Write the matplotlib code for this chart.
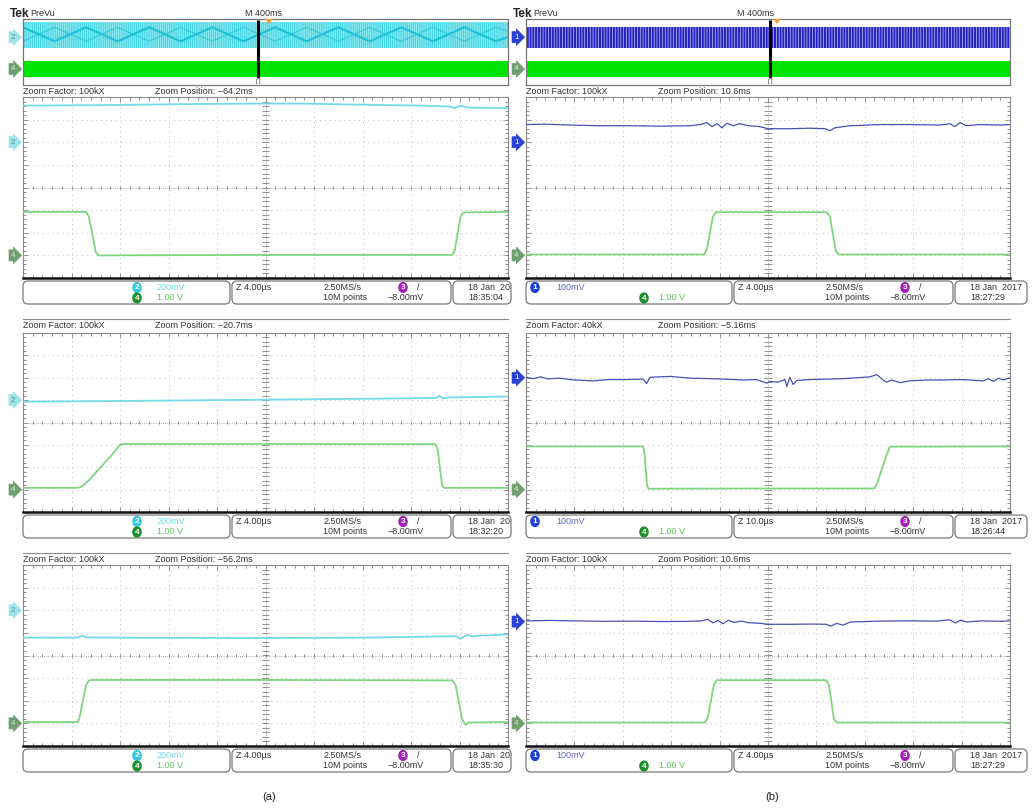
import numpy as np
import matplotlib
matplotlib.use("Agg")
import matplotlib.pyplot as plt
from matplotlib.patches import FancyBboxPatch, Polygon

W, H = 1033, 810

# --- zoomed traces, in scope divisions (x 0..10, y -4..4) ---
a1_ch2_x = [0, 1.6, 3.6, 4.9, 5.7, 6.7, 8.2, 8.8, 8.9, 9.0, 9.2, 10]
a1_ch2_y = [3.62, 3.64, 3.69, 3.71, 3.71, 3.67, 3.62, 3.58, 3.50, 3.62, 3.53, 3.51]
a1_ch4_x = [0, 1.30, 1.36, 1.50, 1.56, 5.0, 8.85, 8.90, 9.02, 9.08, 10]
a1_ch4_y = [-1.08, -1.08, -1.3, -2.85, -3.0, -2.98, -2.98, -2.8, -1.3, -1.1, -1.08]

a2_ch2_x = [0, 2, 4, 6, 8, 8.52, 8.58, 8.66, 8.8, 10]
a2_ch2_y = [0.93, 0.96, 1.0, 1.04, 1.08, 1.1, 1.2, 1.07, 1.12, 1.16]
a2_ch4_x = [0, 1.1, 1.2, 1.35, 1.6, 1.85, 2.0, 2.06, 5, 8.5, 8.55, 8.64, 8.68, 10]
a2_ch4_y = [-2.92, -2.92, -2.88, -2.6, -2.0, -1.4, -1.0, -0.96, -0.96, -0.97, -1.2, -2.8, -2.92, -2.92]

a3_ch2_x = [0, 1.1, 1.18, 1.23, 1.3, 2.5, 5, 7.1, 8.5, 8.95, 9.02, 9.1, 9.18, 9.25, 9.42, 9.7, 10]
a3_ch2_y = [0.79, 0.79, 0.84, 0.87, 0.8, 0.78, 0.77, 0.79, 0.84, 0.85, 0.74, 0.85, 0.92, 0.84, 0.88, 0.9, 0.93]
a3_ch4_x = [0, 1.12, 1.16, 1.30, 1.36, 1.45, 5, 8.85, 8.92, 9.05, 9.12, 9.2, 10]
a3_ch4_y = [-2.94, -2.94, -2.8, -1.3, -1.1, -1.08, -1.08, -1.1, -1.3, -2.8, -3.06, -2.96, -2.94]

b1_ch1_x = [0, 0.39, 0.91, 1.53, 2.15, 2.77, 3.39, 3.60, 3.74, 3.84, 3.95, 4.05, 4.15, 4.28, 4.42, 4.59, 4.83,
            5.0, 5.45, 5.87, 6.18, 6.28, 6.38, 6.69, 7.31, 7.93, 8.55, 8.76, 8.86, 8.97, 9.09, 9.38, 9.79, 10]
b1_ch1_y = [2.78, 2.80, 2.76, 2.73, 2.73, 2.71, 2.73, 2.78, 2.87, 2.69, 2.82, 2.64, 2.84, 2.73, 2.82, 2.73, 2.69,
            2.60, 2.60, 2.62, 2.60, 2.51, 2.64, 2.73, 2.78, 2.78, 2.76, 2.82, 2.69, 2.87, 2.73, 2.78, 2.76, 2.78]
b1_ch4_x = [0, 3.68, 3.74, 3.86, 3.92, 6.22, 6.28, 6.40, 6.46, 10]
b1_ch4_y = [-2.96, -2.96, -2.7, -1.3, -1.09, -1.09, -1.3, -2.8, -2.96, -2.96]

b2_ch1_x = [0, 0.15, 0.3, 0.45, 0.7, 1.0, 1.39, 1.7, 2.08, 2.42, 2.49, 2.56, 2.75, 2.98, 3.4, 3.8, 4.2, 4.49,
            4.75, 4.90, 4.97, 5.04, 5.2, 5.35, 5.39, 5.45, 5.52, 5.6, 5.87, 6.56, 7.11, 7.25, 7.35, 7.45, 7.55,
            7.73, 7.93, 8.3, 8.62, 9.0, 9.45, 9.55, 9.66, 9.76, 9.86, 10]
b2_ch1_y = [2.02, 1.96, 2.04, 1.95, 1.98, 1.90, 1.86, 1.92, 1.92, 1.94, 1.74, 2.02, 2.04, 2.06, 1.98, 1.96, 1.93, 1.90,
            1.92, 1.82, 1.76, 1.84, 1.80, 1.92, 1.60, 2.02, 1.70, 1.88, 1.92, 1.96, 2.04, 2.14, 1.95, 1.80, 1.90,
            1.78, 1.86, 1.90, 1.90, 1.92, 1.86, 1.96, 1.84, 1.98, 1.90, 2.0]
b2_ch4_x = [0, 2.42, 2.45, 2.50, 2.53, 5.0, 7.20, 7.26, 7.35, 7.45, 7.52, 10]
b2_ch4_y = [-1.07, -1.07, -1.4, -2.8, -2.96, -2.95, -2.95, -2.7, -2.1, -1.45, -1.08, -1.07]

b3_ch1_x = [0, 0.5, 1.0, 1.6, 2.2, 2.8, 3.4, 3.62, 3.76, 3.86, 3.97, 4.07, 4.18, 4.3, 4.45, 4.6, 4.85, 5.0,
            5.5, 5.9, 6.2, 6.3, 6.42, 6.55, 6.7, 7.3, 7.9, 8.5, 8.75, 8.87, 8.98, 9.1, 9.4, 9.8, 10]
b3_ch1_y = [1.53, 1.55, 1.53, 1.51, 1.52, 1.50, 1.51, 1.53, 1.60, 1.44, 1.55, 1.40, 1.56, 1.46, 1.52, 1.45, 1.42, 1.38,
            1.38, 1.39, 1.38, 1.30, 1.42, 1.34, 1.48, 1.52, 1.53, 1.52, 1.58, 1.44, 1.56, 1.48, 1.53, 1.51, 1.53]
b3_ch4_x = [0, 3.70, 3.76, 3.88, 3.94, 6.20, 6.26, 6.36, 6.42, 10]
b3_ch4_y = [-2.96, -2.96, -2.7, -1.3, -1.09, -1.09, -1.3, -2.8, -2.96, -2.96]

# channel marker levels (divisions)
left_ch2_marker = [2, 1, 2]
right_ch1_marker = [2, 2, 1.5]
ch4_marker = -3

# PreVu strip (divisions, same -4..4 scale)
prevu_edges = [0, 10]
prevu_ch2_band = [0.5, 3.62]
prevu_ch1_band = [0.48, 3.0]
prevu_ch4_band = [-3.03, -1.09]
zig_x = [0.0, 0.65, 1.3, 1.95, 2.6, 3.25, 3.9, 4.55, 5.2, 5.85, 6.5, 7.15, 7.8, 8.45, 9.1, 9.75, 10]
zig_a = [3.0, 1.3, 3.0, 1.3, 3.0, 1.3, 3.0, 1.3, 3.0, 1.3, 3.0, 1.3, 3.0, 1.3, 3.0, 1.3, 1.8]
zig_b = [1.3, 3.0, 1.3, 3.0, 1.3, 3.0, 1.3, 3.0, 1.3, 3.0, 1.3, 3.0, 1.3, 3.0, 1.3, 3.0, 2.5]

# status bar / header texts
zoom_factor = [['100kX', '100kX', '100kX'], ['100kX', '40kX', '100kX']]
zoom_pos = [['\u221264.2ms', '\u221220.7ms', '\u221256.2ms'], ['10.6ms', '\u22125.16ms', '10.6ms']]
timebase = [['Z 4.00µs', 'Z 4.00µs', 'Z 4.00µs'], ['Z 4.00µs', 'Z 10.0µs', 'Z 4.00µs']]
clock = [['18:35:04', '18:32:20', '18:35:30'], ['18:27:29', '18:26:44', '18:27:29']]
date = ['18 Jan  20', '18 Jan  2017']
captions = ['(a)', '(b)']

CYAN = '#72dbe6'
GREEN = '#7fd67f'
BLUE = '#4b4fb0'
FS = 6.5
plt.rcParams['font.family'] = ['Liberation Sans', 'DejaVu Sans']
plt.rcParams['hatch.linewidth'] = 0.5

fig = plt.figure(figsize=(W / 100, H / 100), dpi=100)

cols = [(23, 508), (526, 1010)]
grid_rows = [(97, 278), (333, 512), (565, 746)]
label_rows = [91, 325, 559]
status_boxes = [[(23, 230), (232, 451), (453, 511)], [(526, 732), (734, 953), (955, 1027)]]
cursor_x = [258, 770]


def px_axes(x0, y0, x1, y1, z=1):
    return fig.add_axes([x0 / W, 1 - y1 / H, (x1 - x0) / W, (y1 - y0) / H], zorder=z)


def marker(ax, lvl, txt, fc, tc):
    ax.annotate(txt, xy=(0, lvl), xycoords='data', xytext=(-7, 0), textcoords='offset points',
                ha='center', va='center', fontsize=5.8, color=tc, annotation_clip=False,
                bbox=dict(boxstyle='rarrow,pad=0.25', fc=fc, ec=fc, lw=0.5))


def scope_grid(ax):
    ax.set_xlim(0, 10)
    ax.set_ylim(-4, 4)
    ax.set_xticks(range(11))
    ax.set_yticks(range(-4, 5))
    ax.set_xticks(np.arange(0, 10.01, 0.2), minor=True)
    ax.set_yticks(np.arange(-4, 4.01, 0.2), minor=True)
    ax.tick_params(which='both', direction='in', top=True, right=True, labelbottom=False,
                   labelleft=False, color='#808080', width=0.6)
    ax.tick_params(which='major', length=3.5)
    ax.tick_params(which='minor', length=2)
    for s in ax.spines.values():
        s.set_color('#8a8a8a')
        s.set_linewidth(0.8)
    ax.spines['bottom'].set_color('#111111')
    ax.spines['bottom'].set_linewidth(1.8)
    for i in range(1, 10):
        if i != 5:
            ax.axvline(i, color='#bcbcbc', lw=0.7, ls=(0, (1, 4)))
    for j in range(-3, 4):
        if j != 0:
            ax.axhline(j, color='#bcbcbc', lw=0.7, ls=(0, (1, 4)))
    ax.axvline(5, color='#9a9a9a', lw=0.6, ls=(0, (1, 1.5)))
    ax.axhline(0, color='#9a9a9a', lw=0.6, ls=(0, (1, 1.5)))
    ax.vlines(np.arange(0.2, 10, 0.2), -0.07, 0.07, color='#808080', lw=0.6)
    ax.hlines(np.arange(-3.8, 4, 0.2), 4.92, 5.08, color='#808080', lw=0.6)


traces = [
    [(a1_ch2_x, a1_ch2_y, a1_ch4_x, a1_ch4_y), (a2_ch2_x, a2_ch2_y, a2_ch4_x, a2_ch4_y),
     (a3_ch2_x, a3_ch2_y, a3_ch4_x, a3_ch4_y)],
    [(b1_ch1_x, b1_ch1_y, b1_ch4_x, b1_ch4_y), (b2_ch1_x, b2_ch1_y, b2_ch4_x, b2_ch4_y),
     (b3_ch1_x, b3_ch1_y, b3_ch4_x, b3_ch4_y)],
]

# overlay for text, boxes and decorations, in pixel units
ov = fig.add_axes([0, 0, 1, 1], zorder=10)
ov.set_xlim(0, W)
ov.set_ylim(H, 0)
ov.axis('off')
ov.patch.set_alpha(0)

for c, (x0, x1) in enumerate(cols):
    # PreVu strip
    sx = px_axes(x0, 19, x1, 85)
    sx.set_xlim(0, 10)
    sx.set_ylim(-4, 4)
    sx.set_xticks([])
    sx.set_yticks([])
    for s in sx.spines.values():
        s.set_color('#777777')
        s.set_linewidth(0.9)
    if c == 0:
        sx.fill_between(prevu_edges, prevu_ch2_band[0], prevu_ch2_band[1], facecolor='#86e7ef',
                        edgecolor='#2fcfe0', hatch='||||||||', linewidth=0)
        sx.plot(zig_x, zig_a, color='#22c2d6', lw=1.6)
        sx.plot(zig_x, zig_b, color='#22c2d6', lw=1.0, alpha=0.6)
        marker(sx, 1.8, '2', '#9fe3ea', '#5b8f96')
    else:
        sx.fill_between(prevu_edges, prevu_ch1_band[0], prevu_ch1_band[1], facecolor='#2424c0',
                        edgecolor='#c4c4f4', hatch='||||||', linewidth=0)
        marker(sx, 1.8, '1', '#2a43d4', 'white')
    sx.fill_between(prevu_edges, prevu_ch4_band[0], prevu_ch4_band[1], color='#00e300', lw=0)
    marker(sx, -2.06, '4', '#6f9f70', '#d8ecd8')

    cx = cursor_x[c]
    ov.plot([cx, cx], [20, 78], color='black', lw=2.2, solid_capstyle='butt')
    ov.text(cx, 81.5, '[ ]', fontsize=4, ha='center', va='center', color='#333333')
    ov.add_patch(Polygon([[cx + 7 - 4 * c, 19], [cx + 15 - 4 * c, 19], [cx + 11 - 4 * c, 24]],
                         closed=True, color='#f0a030', lw=0))
    ov.text(x0 - 13, 14, 'Tek', fontsize=8.5, fontweight='bold', va='center', color='#222222')
    ov.text(x0 + 7, 14, 'PreVu', fontsize=FS, va='center', color='#333333')
    ov.text(cx - 13 if c == 0 else cx - 33, 14, 'M 400ms', fontsize=FS, va='center', color='#333333')

    for r, (y0, y1) in enumerate(grid_rows):
        ax = px_axes(x0, y0, x1, y1)
        scope_grid(ax)
        tx, ty, gx, gy = traces[c][r]
        if c == 0:
            ax.plot(tx, ty, color=CYAN, lw=1.3, zorder=5)
            marker(ax, left_ch2_marker[r], '2', '#9fe3ea', '#5b8f96')
        else:
            ax.plot(tx, ty, color=BLUE, lw=0.9, zorder=5)
            marker(ax, right_ch1_marker[r], '1', '#2a43d4', 'white')
        ax.plot(gx, gy, color=GREEN, lw=1.3, zorder=5)
        marker(ax, ch4_marker, '4', '#6f9f70', '#d8ecd8')

        # header row
        ly = label_rows[r]
        if r > 0:
            ov.plot([x0, x1], [ly - 6, ly - 6], color='#8a8a8a', lw=0.8)
        ov.text(x0, ly, 'Zoom Factor: ' + zoom_factor[c][r], fontsize=FS, va='center', color='#333333')
        ov.text(x0 + 132, ly, 'Zoom Position: ' + zoom_pos[c][r], fontsize=FS, va='center', color='#333333')

        # status bar
        top = y1 + 3
        for (bx0, bx1) in status_boxes[c]:
            ov.add_patch(FancyBboxPatch((bx0, top), bx1 - bx0, 23,
                                        boxstyle='round,pad=0,rounding_size=5',
                                        fc='white', ec='#7a7a7a', lw=0.9))
        r1, r2 = top + 6.5, top + 17
        chip = dict(fontsize=6, color='white', fontweight='bold', ha='center', va='center')
        rb = 'round,pad=0.3,rounding_size=0.8'
        if c == 0:
            ov.text(137, r1, '2', bbox=dict(boxstyle=rb, fc='#35c9dc', ec='none'), **chip)
            ov.text(157, r1, '200mV', fontsize=FS, va='center', color=CYAN)
            ov.text(137, r2, '4', bbox=dict(boxstyle=rb, fc='#1f8f2f', ec='none'), **chip)
            ov.text(157, r2, '1.00 V', fontsize=FS, va='center', color='#5cc05c')
        else:
            ov.text(535, r1, '1', bbox=dict(boxstyle=rb, fc='#1f3fd6', ec='none'), **chip)
            ov.text(556, r1, '100mV', fontsize=FS, va='center', color='#6565c0')
            ov.text(644, r2, '4', bbox=dict(boxstyle=rb, fc='#1f8f2f', ec='none'), **chip)
            ov.text(659, r2, '1.00 V', fontsize=FS, va='center', color='#5cc05c')
        b2x = status_boxes[c][1][0]
        ov.text(b2x + 4, r1, timebase[c][r], fontsize=FS, va='center', color='#333333')
        ov.text(b2x + 92, r1, '2.50MS/s', fontsize=FS, va='center', color='#333333')
        ov.text(b2x + 91, r2, '10M points', fontsize=FS, va='center', color='#333333')
        ov.text(b2x + 171, r1, '3', bbox=dict(boxstyle=rb, fc='#a021b2', ec='none'), **chip)
        ov.text(b2x + 185, r1, '/', fontsize=FS, va='center', color='#333333')
        ov.text(b2x + 156, r2, '\u22128.00mV', fontsize=FS, va='center', color='#333333')
        b3x = status_boxes[c][2][0]
        ov.text(b3x + 15, r1, date[c], fontsize=FS, va='center', color='#333333')
        ov.text(b3x + 15, r2, clock[c][r], fontsize=FS, va='center', color='#333333')

    ov.text((x0 + x1) / 2 + 4, 797, captions[c], fontsize=8, ha='center', va='center', color='#222222')

fig.savefig('out.png', dpi=100, facecolor='white')
